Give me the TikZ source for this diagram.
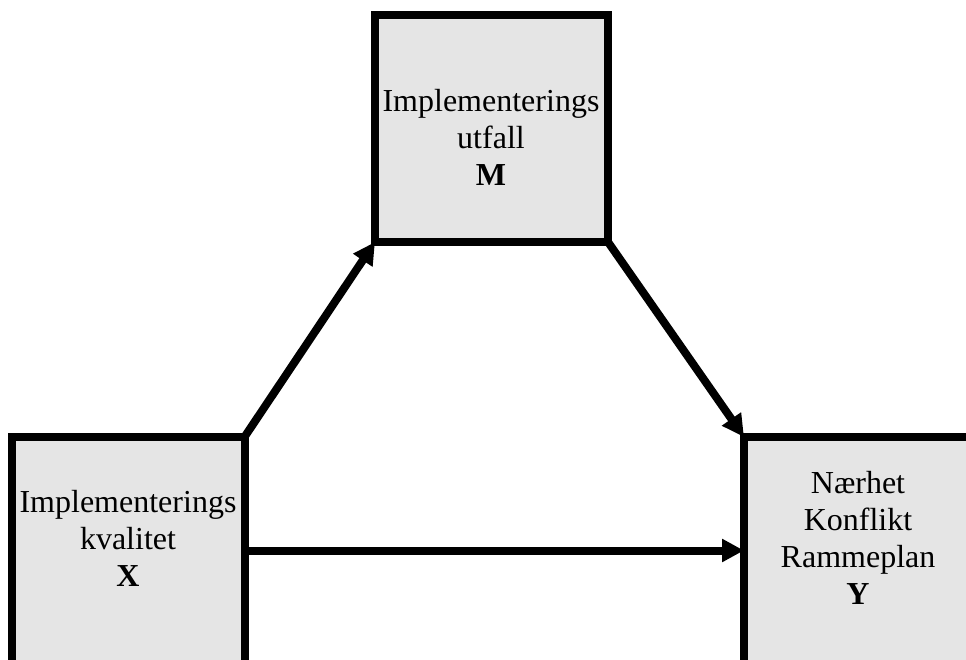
\documentclass[tikz,border=0pt]{standalone}
\usepackage{fontspec}
\setmainfont{Liberation Serif}
\usetikzlibrary{arrows.meta}
\definecolor{boxfill}{RGB}{229,229,229}
\begin{document}
\begin{tikzpicture}[x=1pt,y=-1pt,
  varbox/.style={draw=black, fill=boxfill, line width=8pt, rectangle, inner sep=0pt, outer sep=0pt, minimum width=233pt, minimum height=227pt},
  vartext/.style={align=center, inner sep=0pt, font=\fontsize{32}{37}\selectfont},
  link/.style={line width=8pt, -{Triangle[length=22pt,width=22pt]}}]
\useasboundingbox (0,0) rectangle (966,660);
\clip (0,0) rectangle (966,660);
\node[varbox] (mb) at (491.5,128.5) {};
\node[varbox] (xb) at (128,550.5) {};
\node[varbox] (yb) at (860.5,550.5) {};
\node[vartext] (mt) at (491,137.5) {Implementerings\\utfall\\\textbf{M}};
\node[vartext] (xt) at (128,538.5) {Implementerings\\kvalitet\\\textbf{X}};
\node[vartext] (yt) at (858,537.5) {Nærhet\\Konflikt\\Rammeplan\\\textbf{Y}};
\draw[link] (xb.north east) -- (mb.south west);
\draw[link] (mb.south east) -- (yb.north west);
\draw[link] (xb.east) -- (yb.west);
\end{tikzpicture}
\end{document}
